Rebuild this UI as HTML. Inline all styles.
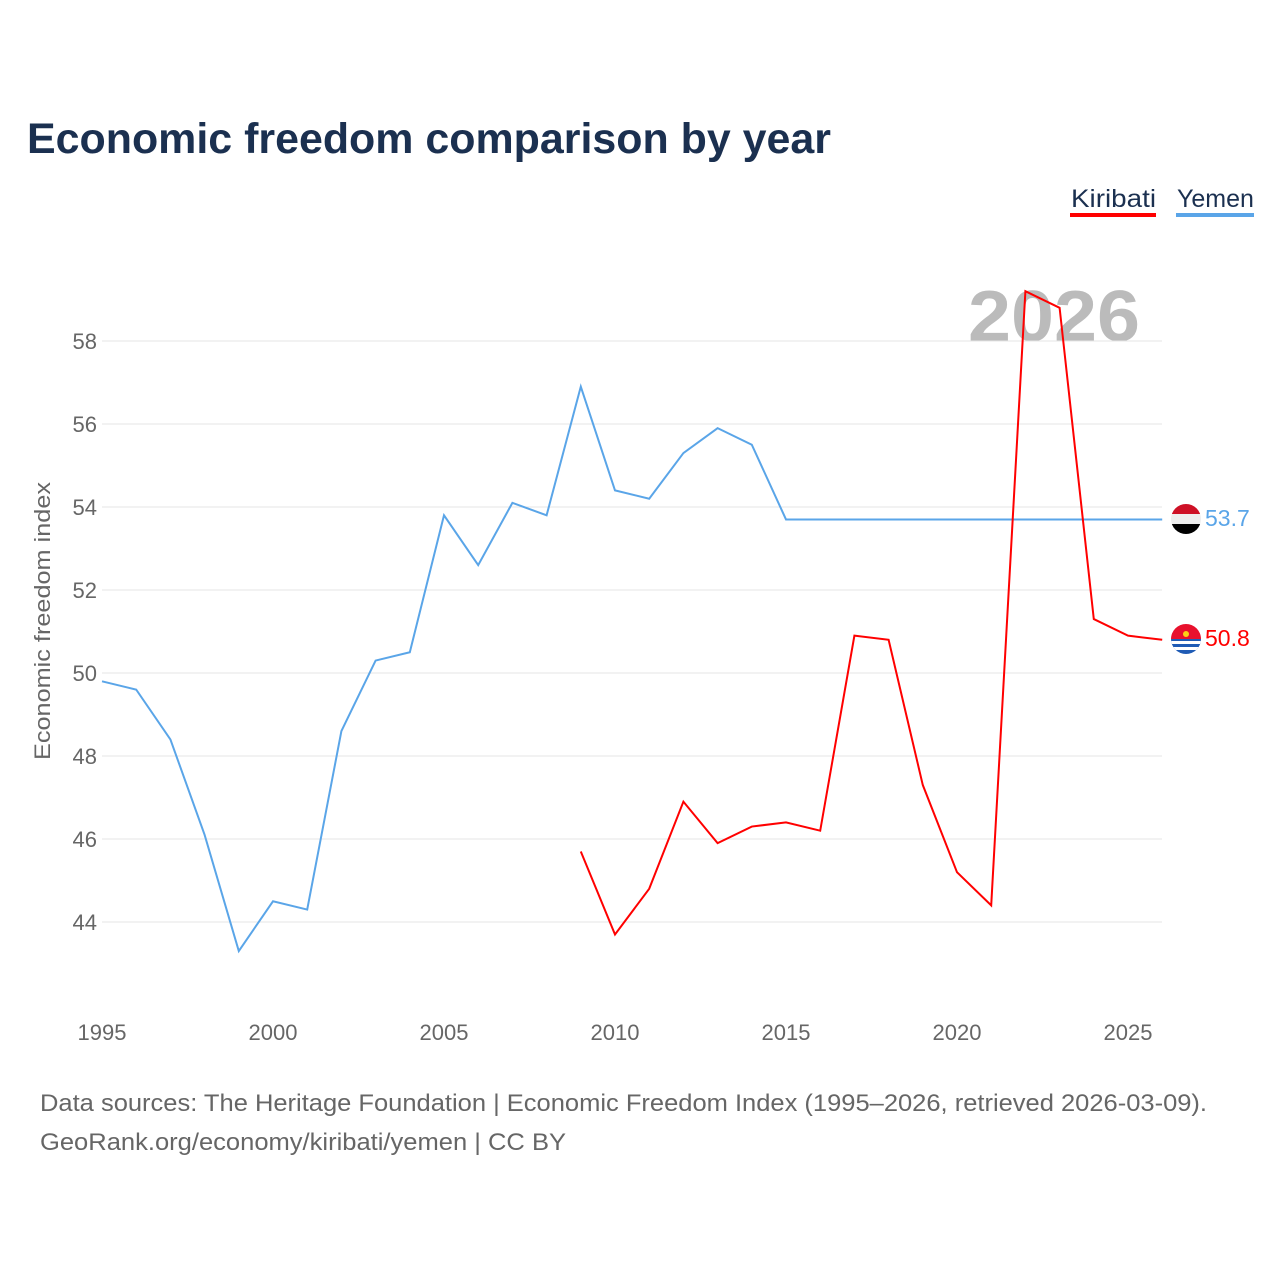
<!DOCTYPE html>
<html><head><meta charset="utf-8"><style>
body{margin:0;background:#fff;font-family:"Liberation Sans",sans-serif;}
svg text{font-family:"Liberation Sans",sans-serif;}
</style></head><body>
<svg width="1280" height="1280" xmlns="http://www.w3.org/2000/svg">
<text x="27" y="153" font-size="43" font-weight="bold" fill="#1b3050" textLength="804" lengthAdjust="spacingAndGlyphs">Economic freedom comparison by year</text>
<g><text x="1071" y="207" font-size="25" fill="#1b3050" textLength="85" lengthAdjust="spacingAndGlyphs">Kiribati</text><rect x="1070" y="213" width="86" height="4" fill="#ff0000"/></g>
<g><text x="1177" y="207" font-size="25" fill="#1b3050">Yemen</text><rect x="1176" y="213" width="78" height="4" fill="#5aa5e8"/></g>
<text x="968" y="341" font-size="72" font-weight="bold" fill="#bbb" textLength="172" lengthAdjust="spacingAndGlyphs">2026</text>
<g id="grid"></g><g id="ticks"></g>
<text transform="translate(50,621) rotate(-90)" font-size="22" fill="#666" text-anchor="middle" textLength="278" lengthAdjust="spacingAndGlyphs">Economic freedom index</text>
<g id="series"></g>
<g><clipPath id="cy"><circle cx="1186" cy="519" r="15"/></clipPath><g clip-path="url(#cy)"><rect x="1171" y="504" width="30" height="10" fill="#ce1126"/><rect x="1171" y="514" width="30" height="10" fill="#eee"/><rect x="1171" y="524" width="30" height="10" fill="#000"/></g></g>
<text x="1205" y="526" font-size="23" fill="#5aa5e8">53.7</text>
<g><clipPath id="ck"><circle cx="1186" cy="639" r="15"/></clipPath><g clip-path="url(#ck)"><rect x="1171" y="624" width="30" height="15" fill="#e8112d"/><rect x="1171" y="639" width="30" height="15" fill="#1f5bb5"/><rect x="1171" y="641" width="30" height="3" fill="#fff"/><rect x="1171" y="647" width="30" height="3" fill="#fff"/><circle cx="1186" cy="634" r="3" fill="#fcd116"/></g></g>
<text x="1205" y="646" font-size="23" fill="#ff0000">50.8</text>
<text x="40" y="1111" font-size="24" fill="#666" textLength="1167" lengthAdjust="spacingAndGlyphs">Data sources: The Heritage Foundation | Economic Freedom Index (1995–2026, retrieved 2026-03-09).</text>
<text x="40" y="1150" font-size="24" fill="#666" textLength="526" lengthAdjust="spacingAndGlyphs">GeoRank.org/economy/kiribati/yemen | CC BY</text>
</svg>
<script>
const yTicks=[44,46,48,50,52,54,56,58];
const xTicks=[1995,2000,2005,2010,2015,2020,2025];
const yemenYears=[1995,1996,1997,1998,1999,2000,2001,2002,2003,2004,2005,2006,2007,2008,2009,2010,2011,2012,2013,2014,2015,2016,2017,2018,2019,2020,2021,2022,2023,2024,2025,2026];
const yemenValues=[49.8,49.6,48.4,46.1,43.3,44.5,44.3,48.6,50.3,50.5,53.8,52.6,54.1,53.8,56.9,54.4,54.2,55.3,55.9,55.5,53.7,53.7,53.7,53.7,53.7,53.7,53.7,53.7,53.7,53.7,53.7,53.7];
const kiribatiYears=[2009,2010,2011,2012,2013,2014,2015,2016,2017,2018,2019,2020,2021,2022,2023,2024,2025,2026];
const kiribatiValues=[45.7,43.7,44.8,46.9,45.9,46.3,46.4,46.2,50.9,50.8,47.3,45.2,44.4,59.2,58.8,51.3,50.9,50.8];
const NS="http://www.w3.org/2000/svg";
const xs=y=>102+(y-1995)*34.2;
const ys=v=>341+(58-v)*41.5;
const grid=document.getElementById('grid'),ticks=document.getElementById('ticks'),ser=document.getElementById('series');
yTicks.forEach(t=>{
 const l=document.createElementNS(NS,'line');
 l.setAttribute('x1',102);l.setAttribute('x2',1162);l.setAttribute('y1',ys(t));l.setAttribute('y2',ys(t));
 l.setAttribute('stroke','#e6e6e6');
 
 
 grid.appendChild(l);
 const tx=document.createElementNS(NS,'text');
 tx.setAttribute('x',97);tx.setAttribute('y',ys(t)+8);tx.setAttribute('text-anchor','end');
 tx.setAttribute('font-size','22');tx.setAttribute('fill','#666');tx.textContent=t;
 
 
 ticks.appendChild(tx);
});
xTicks.forEach(t=>{
 const tx=document.createElementNS(NS,'text');
 tx.setAttribute('x',xs(t));tx.setAttribute('y',1040);tx.setAttribute('text-anchor','middle');
 tx.setAttribute('font-size','22');tx.setAttribute('fill','#666');tx.textContent=t;
 
 
 ticks.appendChild(tx);
});
function line(years,vals,color,name){
 const p=document.createElementNS(NS,'polyline');
 p.setAttribute('points',years.map((y,i)=>xs(y)+','+ys(vals[i])).join(' '));
 p.setAttribute('fill','none');p.setAttribute('stroke',color);p.setAttribute('stroke-width','2');
 
 
 ser.appendChild(p);
}
line(yemenYears,yemenValues,'#5aa5e8','yemen-line');
line(kiribatiYears,kiribatiValues,'#ff0000','kiribati-line');
</script>
</body></html>
